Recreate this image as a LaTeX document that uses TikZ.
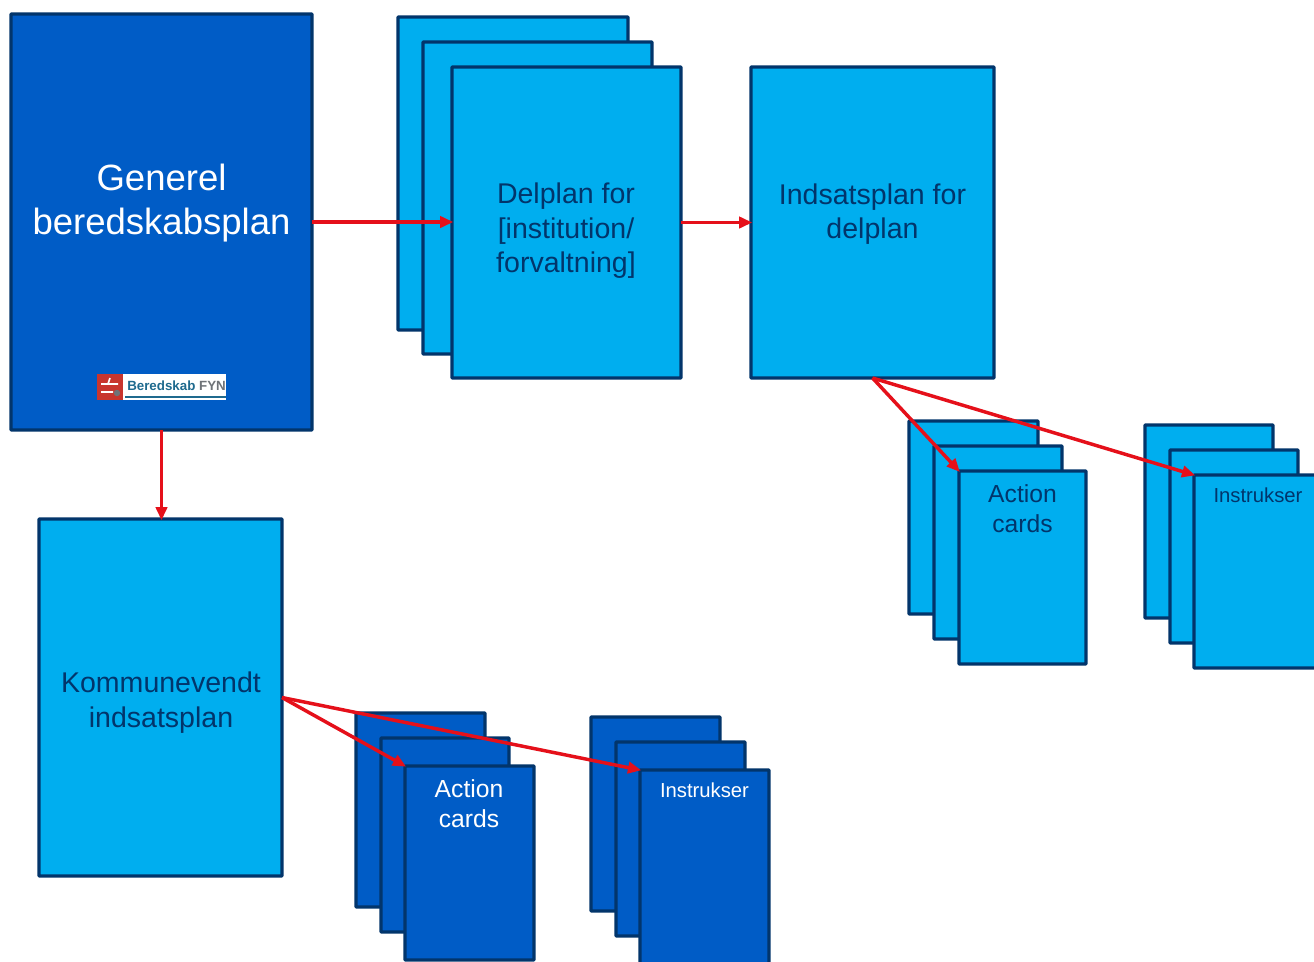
\documentclass[tikz,border=0pt]{standalone}
\usepackage{fontspec}
\setmainfont{Liberation Sans}
\usetikzlibrary{arrows.meta,calc}
\definecolor{lightb}{HTML}{00AEEF}
\definecolor{darkb}{HTML}{005CC6}
\definecolor{edgeb}{HTML}{02356B}
\definecolor{redar}{HTML}{E5101A}
\definecolor{logored}{HTML}{C8352E}
\definecolor{logoteal}{HTML}{1F6A8E}
\definecolor{logogray}{HTML}{6F7378}
\tikzset{
  x=0.75pt,y=-0.75pt,
  plate/.style={draw=edgeb,line width=2.5pt,rounded corners=0.6pt,inner sep=0pt,outer sep=0pt,anchor=north west},
  lightplate/.style={plate,fill=lightb},
  darkplate/.style={plate,fill=darkb},
  flow/.style={draw=redar,line width=2.6pt,-{Triangle[length=10pt,width=8.5pt]},shorten >=-1pt},
  lbl/.style={align=center,inner sep=0pt},
}
\newcommand{\plateat}[6]{\node[#6,minimum width=#4*0.75pt-#2*0.75pt,minimum height=#5*0.75pt-#3*0.75pt] (#1) at (#2,#3) {};}
\begin{document}
\begin{tikzpicture}
\path[use as bounding box] (0,0) rectangle (1314,961);
\clip (0,0) rectangle (1314,961);
\fill[white] (0,0) rectangle (1314,961);
% main plan
\plateat{gen}{11}{14}{312}{430}{darkplate}
\node[lbl,text=white,font=\fontsize{27.4}{33}\selectfont] (gentxt) at (161.5,203) {Generel\\beredskabsplan};
% logo
\node[fill=white,minimum width=96.75pt,minimum height=19.5pt,inner sep=0pt,anchor=north west] (logobg) at (97,374) {};
\node[fill=logored,minimum width=19.5pt,minimum height=19.5pt,inner sep=0pt,anchor=north west] (logosq) at (97,374) {};
\draw[white,line width=1.2pt] (101,384) -- (118,384) (101,392) -- (113,392) (110,378) -- (108,384);
\fill[logogray] (117,393) circle (3.2);
\node[anchor=west,inner sep=0pt,font=\bfseries\fontsize{10}{11}\selectfont] (logotxt) at (127,386) {\textcolor{logoteal}{Beredskab} \textcolor{logogray}{FYN}};
\draw[logoteal,line width=0.8pt] (125,397) -- (226,397);
% delplan stack
\plateat{d1}{398}{17}{628}{330}{lightplate}
\plateat{d2}{423}{42}{652}{354}{lightplate}
\plateat{d3}{452}{67}{681}{378}{lightplate}
\node[lbl,text=edgeb,font=\fontsize{21.4}{25.8}\selectfont] (d3txt) at (566,231) {Delplan for\\{[}institution/\\forvaltning{]}};
% indsatsplan
\plateat{ind}{751}{67}{994}{378}{lightplate}
\node[lbl,text=edgeb,font=\fontsize{21.4}{25.8}\selectfont] (indtxt) at (872.5,214) {Indsatsplan for\\delplan};
% action cards, light
\plateat{a1}{909}{421}{1038}{614}{lightplate}
\plateat{a2}{934}{446}{1062}{639}{lightplate}
\plateat{a3}{959}{471}{1086}{664}{lightplate}
\node[lbl,text=edgeb,font=\fontsize{18.5}{22.5}\selectfont] (a3txt) at (1022.5,509) {Action\\cards};
% instrukser, light
\plateat{i1}{1145}{425}{1273}{618}{lightplate}
\plateat{i2}{1170}{450}{1298}{643}{lightplate}
\plateat{i3}{1194}{475}{1322}{668}{lightplate}
\node[lbl,text=edgeb,font=\fontsize{15.2}{17}\selectfont] (i3txt) at (1258,495) {Instrukser};
% kommunevendt
\plateat{kom}{39}{519}{282}{876}{lightplate}
\node[lbl,text=edgeb,font=\fontsize{21.4}{25.8}\selectfont] (komtxt) at (161,702.5) {Kommunevendt\\indsatsplan};
% action cards, dark
\plateat{b1}{356}{713}{485}{907}{darkplate}
\plateat{b2}{381}{738}{509}{932}{darkplate}
\plateat{b3}{405}{766}{534}{960}{darkplate}
\node[lbl,text=white,font=\fontsize{18.5}{22.5}\selectfont] (b3txt) at (469,804) {Action\\cards};
% instrukser, dark
\plateat{j1}{591}{717}{720}{911}{darkplate}
\plateat{j2}{616}{742}{745}{936}{darkplate}
\plateat{j3}{640}{770}{769}{965}{darkplate}
\node[lbl,text=white,font=\fontsize{15.2}{17}\selectfont] (j3txt) at (704.5,790) {Instrukser};
% connectors
\draw[flow] (gen.east) -- (gen.east -| d3.west);
\draw[flow] (d3.east) -- (d3.east -| ind.west);
\draw[flow] (gen.south) -- (gen.south |- kom.north);
\draw[flow] (ind.south) -- (a3.north west);
\draw[flow] (ind.south) -- (i3.north west);
\draw[flow] (kom.east) -- (b3.north west);
\draw[flow] (kom.east) -- (j3.north west);
\end{tikzpicture}
\end{document}
